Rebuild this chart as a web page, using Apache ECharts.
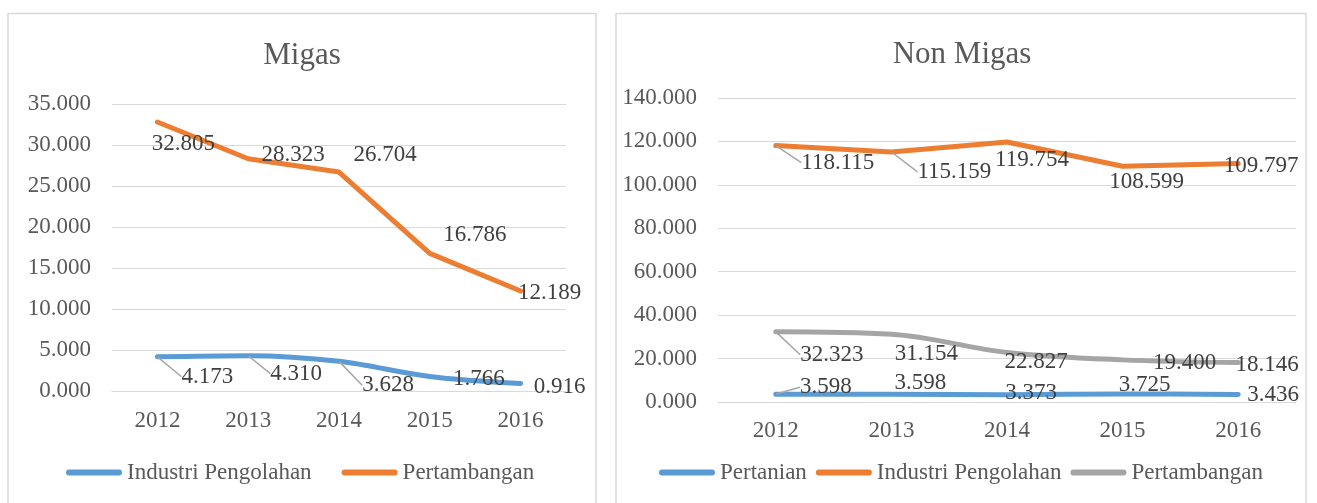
<!DOCTYPE html>
<html>
<head>
<meta charset="utf-8">
<script src="https://cdn.jsdelivr.net/npm/echarts@6/dist/echarts.min.js"></script>
<style>
  html, body { margin: 0; padding: 0; background: #fff; }
  #chart { width: 1317px; height: 503px; }
</style>
</head>
<body>
<div id="chart"></div>
<script>
// data (values in thousands, printed with dot separators like the source)
var years = ["2012", "2013", "2014", "2015", "2016"];

var migasIndustri = [4.173, 4.310, 3.628, 1.766, 0.916];
var migasTambang = [32.805, 28.323, 26.704, 16.786, 12.189];

var nonPertanian = [3.598, 3.598, 3.373, 3.725, 3.436];
var nonIndustri = [118.115, 115.159, 119.754, 108.599, 109.797];
var nonTambang = [32.323, 31.154, 22.827, 19.400, 18.146];

var migasAxis = { min: 0, max: 35, interval: 5 };
var nonAxis = { min: 0, max: 140, interval: 20 };

// label placement (pixels from the point), Excel put them by hand
var offMigasIndustri = [[50, 20], [48, 18], [49, 24], [49, 2], [39, 3]];
var offMigasTambang = [[26, 22], [45, -4], [46, -17], [45, -18], [29, 2]];
var offPertanian = [[50, -7], [29, -11], [24, -2], [22, -9], [35, 0]];
var offNonIndustri = [[62, 17], [63, 20], [25, 18], [24, 16], [23, 2]];
var offNonTambang = [[56, 23], [35, 20], [29, 10], [62, 3], [29, 2]];

var FONT = "'Liberation Serif', 'Times New Roman', serif";
var GRID_COLOR = "#d9d9d9";
var TEXT = "#595959";
var BLUE = "#5b9bd5", ORANGE = "#ed7d31", GRAY = "#a5a5a5";
// capsule shaped legend marker, like the thick rounded Excel line
var CAPSULE = "path://M3,0 L53,0 A3,3 0 0 1 53,6 L3,6 A3,3 0 0 1 3,0 Z";

var fmt = function (v) { return Number(v).toFixed(3); };

function lineSeries(name, values, color, idx, offsets, leaders, smooth) {
  return {
    name: name,
    type: "line",
    xAxisIndex: idx,
    yAxisIndex: idx,
    data: values.map(function (v, i) {
      return { value: v, labelLine: { show: leaders.indexOf(i) >= 0 } };
    }),
    smooth: smooth,
    symbol: "circle",
    symbolSize: 1,
    showSymbol: true,
    itemStyle: { color: color },
    lineStyle: { width: 5, color: color, cap: "round", join: "round" },
    label: {
      show: true,
      position: "inside",
      formatter: function (p) { return fmt(p.value); },
      fontFamily: FONT,
      fontSize: 23,
      color: "#404040"
    },
    labelLine: {
      show: false,
      lineStyle: { color: "#a6a6a6", width: 1.5 }
    },
    labelLayout: function (p) {
      var o = offsets[p.dataIndex];
      return { dx: o[0], dy: o[1] };
    },
    emphasis: { disabled: true },
    animation: false
  };
}

function catAxis(idx, margin) {
  return {
    type: "category",
    gridIndex: idx,
    data: years,
    boundaryGap: true,
    axisLine: { show: true, lineStyle: { color: GRID_COLOR, width: 1 } },
    axisTick: { show: false },
    axisLabel: { margin: margin, fontFamily: FONT, fontSize: 23, color: TEXT }
  };
}

function valAxis(idx, ax) {
  return {
    type: "value",
    gridIndex: idx,
    min: ax.min,
    max: ax.max,
    interval: ax.interval,
    axisLine: { show: false },
    axisTick: { show: false },
    splitLine: { lineStyle: { color: GRID_COLOR, width: 1 } },
    axisLabel: { margin: 21, fontFamily: FONT, fontSize: 23, color: TEXT, formatter: fmt }
  };
}

function legendBox(names, left, gap) {
  return {
    data: names,
    left: left, top: 461,
    padding: 0,
    icon: CAPSULE,
    itemWidth: 56, itemHeight: 6, itemGap: gap,
    textStyle: { fontFamily: FONT, fontSize: 23, color: TEXT },
    formatter: function (n) { return n.trim(); },
    selectedMode: false
  };
}

var chart = echarts.init(document.getElementById("chart"));

chart.setOption({
  backgroundColor: "#fff",
  animation: false,
  graphic: [
    { type: "rect", silent: true, shape: { x: 8, y: 13.5, width: 588, height: 520 },
      style: { fill: "none", stroke: GRID_COLOR, lineWidth: 1.5 } },
    { type: "rect", silent: true, shape: { x: 616, y: 13.5, width: 690, height: 520 },
      style: { fill: "none", stroke: GRID_COLOR, lineWidth: 1.5 } },
    { type: "text", silent: true, x: 302, y: 56,
      style: { text: "Migas", fontFamily: FONT, fontSize: 31, fill: TEXT,
               align: "center", verticalAlign: "middle", textAlign: "center", textVerticalAlign: "middle" } },
    { type: "text", silent: true, x: 962, y: 55,
      style: { text: "Non Migas", fontFamily: FONT, fontSize: 31, fill: TEXT,
               align: "center", verticalAlign: "middle", textAlign: "center", textVerticalAlign: "middle" } }
  ],
  grid: [
    { left: 112, top: 104, width: 454, height: 287 },
    { left: 718, top: 98, width: 578, height: 304 }
  ],
  xAxis: [catAxis(0, 18), catAxis(1, 17)],
  yAxis: [valAxis(0, migasAxis), valAxis(1, nonAxis)],
  legend: [
    legendBox(["Industri Pengolahan", "Pertambangan"], 66, 30),
    legendBox(["Pertanian", "Industri Pengolahan ", "Pertambangan "], 659, 9)
  ],
  series: [
    lineSeries("Industri Pengolahan", migasIndustri, BLUE, 0, offMigasIndustri, [0, 1, 2], 0.35),
    lineSeries("Pertambangan", migasTambang, ORANGE, 0, offMigasTambang, [], false),
    lineSeries("Pertanian", nonPertanian, BLUE, 1, offPertanian, [0], 0.35),
    lineSeries("Industri Pengolahan ", nonIndustri, ORANGE, 1, offNonIndustri, [0, 1], false),
    lineSeries("Pertambangan ", nonTambang, GRAY, 1, offNonTambang, [0], 0.35)
  ]
});
</script>
</body>
</html>
